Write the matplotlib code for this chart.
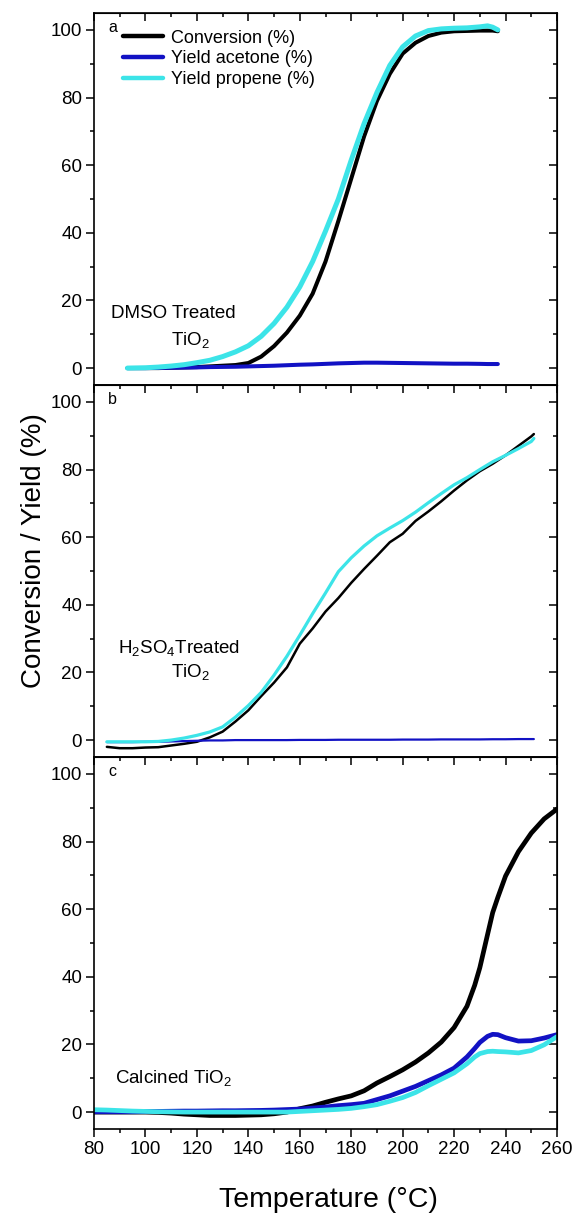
import numpy as np
import matplotlib
matplotlib.use('Agg')
import matplotlib.pyplot as plt
from matplotlib.ticker import MultipleLocator

plt.rcParams['font.family'] = 'Liberation Sans'
plt.rcParams['mathtext.fontset'] = 'custom'
plt.rcParams['mathtext.rm'] = 'Liberation Sans'
plt.rcParams['mathtext.default'] = 'regular'

# panel a - DMSO treated TiO2
T_a = [93, 100, 105, 110, 115, 120, 125, 130, 135, 140, 145, 150, 155, 160, 165, 170,
       175, 180, 185, 190, 195, 200, 205, 210, 215, 220, 225, 230, 233, 235, 237]
conv_a = [0, 0, 0, 0.1, 0.2, 0.3, 0.5, 0.7, 0.9, 1.5, 3.4, 6.5, 10.5, 15.5, 22, 31.5,
          43.5, 56, 68.5, 79, 87, 93, 96.2, 98.2, 99.2, 99.6, 99.7, 99.8, 99.8, 99.8, 99.6]
acet_a = [0, 0, 0.05, 0.1, 0.15, 0.2, 0.3, 0.35, 0.4, 0.5, 0.6, 0.7, 0.85, 1.0, 1.1, 1.25,
          1.4, 1.5, 1.6, 1.6, 1.55, 1.5, 1.45, 1.4, 1.35, 1.3, 1.3, 1.25, 1.2, 1.2, 1.2]
prop_a = [0, 0.1, 0.3, 0.6, 1.0, 1.6, 2.3, 3.4, 4.8, 6.6, 9.4, 13.2, 18, 24, 31.5, 40.5,
          50, 61.5, 72.3, 81.5, 89.5, 95, 98.2, 99.8, 100.3, 100.5, 100.6, 100.9, 101.2, 100.8, 100]

# panel b - H2SO4 treated TiO2
T_b = [85, 90, 95, 100, 105, 110, 115, 120, 125, 130, 135, 140, 145, 150, 155, 160, 165,
       170, 175, 180, 185, 190, 195, 200, 205, 210, 215, 220, 225, 230, 235, 240, 245, 250, 251]
conv_b = [-2, -2.4, -2.4, -2.2, -2.1, -1.6, -1.1, -0.5, 0.8, 2.5, 5.5, 8.8, 13, 17, 21.5, 28.5, 33,
          38, 42, 46.5, 50.6, 54.5, 58.5, 61, 64.8, 67.6, 70.6, 73.8, 76.8, 79.5, 81.7, 84.2, 87, 89.8, 90.5]
acet_b = [-0.6, -0.6, -0.6, -0.5, -0.5, -0.4, -0.3, -0.2, -0.1, -0.1, 0, 0, 0, 0, 0, 0.05, 0.05,
          0.05, 0.1, 0.1, 0.1, 0.1, 0.1, 0.15, 0.15, 0.15, 0.2, 0.2, 0.2, 0.2, 0.25, 0.25, 0.3, 0.3, 0.3]
prop_b = [-0.5, -0.5, -0.5, -0.5, -0.4, 0, 0.6, 1.4, 2.4, 3.9, 6.8, 10.2, 14.1, 19.2, 24.8, 31, 37.4,
          43.5, 49.8, 53.9, 57.4, 60.4, 62.7, 64.9, 67.4, 70.2, 72.9, 75.5, 77.6, 80, 82.3, 84.2, 86.2, 88.3, 89.2]

# panel c - calcined TiO2
T_c = [80, 85, 90, 95, 100, 105, 110, 115, 120, 125, 130, 135, 140, 145, 150, 155, 160, 165, 170, 175,
       180, 185, 190, 195, 200, 205, 210, 215, 220, 225, 228, 230, 233, 235, 237, 240, 245, 250, 255, 260]
conv_c = [0, 0, 0, 0, 0, -0.1, -0.3, -0.6, -0.8, -1.0, -1.0, -1.0, -0.9, -0.8, -0.5, 0.0, 1.0, 1.8, 2.9, 3.9,
          4.8, 6.3, 8.6, 10.5, 12.5, 14.8, 17.5, 20.7, 25.0, 31.3, 37.5, 42.7, 52.5, 59.0, 63.5, 69.8, 77.0, 82.5, 86.7, 89.6]
acet_c = [0.1, 0.1, 0.1, 0.1, 0.15, 0.2, 0.25, 0.3, 0.3, 0.35, 0.4, 0.4, 0.45, 0.5, 0.6, 0.75, 0.9, 1.2, 1.5, 1.9,
          2.2, 2.6, 3.7, 4.8, 6.2, 7.6, 9.3, 11.0, 13.0, 16.3, 18.8, 20.6, 22.4, 23.0, 22.9, 22.0, 21.0, 21.1, 21.9, 22.9]
prop_c = [0.7, 0.6, 0.45, 0.3, 0.2, 0.1, 0.05, 0, 0, 0, 0, 0, 0, 0, 0, 0, 0.2, 0.4, 0.6, 0.8,
          1.1, 1.6, 2.2, 3.2, 4.3, 5.8, 7.8, 9.7, 11.6, 14.3, 16.3, 17.3, 17.9, 18.0, 17.9, 17.8, 17.5, 18.2, 19.9, 22.3]

labels = ['Conversion (%)', 'Yield acetone (%)', 'Yield propene (%)']
c_conv = '#000000'
c_acet = '#1212c4'
c_prop = '#3ce4e8'

fig = plt.figure(figsize=(5.74, 12.16), dpi=100)
left = 94/574
width = 463/574
h = 372/1216
bottoms = [1-385/1216, 1-757/1216, 1-1129/1216]


def panel(bottom, T, conv, acet, prop, lws, letter, last=False):
    ax = fig.add_axes([left, bottom, width, h])
    ax.plot(T, conv, color=c_conv, lw=lws[0], label=labels[0], solid_capstyle='round')
    ax.plot(T, acet, color=c_acet, lw=lws[1], label=labels[1], solid_capstyle='round')
    ax.plot(T, prop, color=c_prop, lw=lws[2], label=labels[2], solid_capstyle='round')
    ax.set_xlim(80, 260)
    ax.set_ylim(-5, 105)
    ax.xaxis.set_major_locator(MultipleLocator(20))
    ax.xaxis.set_minor_locator(MultipleLocator(10))
    ax.yaxis.set_major_locator(MultipleLocator(20))
    ax.yaxis.set_minor_locator(MultipleLocator(10))
    ax.tick_params(which='both', direction='out', width=1.1, labelsize=13.5, pad=3)
    ax.tick_params(which='major', length=5.5)
    ax.tick_params(which='minor', length=3)
    if not last:
        ax.tick_params(axis='x', labelbottom=False)
    for s in ax.spines.values():
        s.set_linewidth(1.2)
    # mirrored ticks on top and right, pointing inward
    sx = ax.secondary_xaxis('top')
    sx.xaxis.set_major_locator(MultipleLocator(20))
    sx.xaxis.set_minor_locator(MultipleLocator(10))
    sx.tick_params(which='both', direction='in', labeltop=False, width=1.1)
    sx.tick_params(which='major', length=5.5)
    sx.tick_params(which='minor', length=3)
    sy = ax.secondary_yaxis('right')
    sy.yaxis.set_major_locator(MultipleLocator(20))
    sy.yaxis.set_minor_locator(MultipleLocator(10))
    sy.tick_params(which='both', direction='in', labelright=False, width=1.1)
    sy.tick_params(which='major', length=5.5)
    sy.tick_params(which='minor', length=3)
    ax.text(0.03, 0.962, letter, transform=ax.transAxes, fontsize=11.5, va='center', ha='left')
    return ax


ax1 = panel(bottoms[0], T_a, conv_a, acet_a, prop_a, (2.9, 2.9, 3.6), 'a')
ax2 = panel(bottoms[1], T_b, conv_b, acet_b, prop_b, (1.8, 1.6, 2.3), 'b')
ax3 = panel(bottoms[2], T_c, conv_c, acet_c, prop_c, (3.4, 3.4, 3.4), 'c', last=True)

leg = ax1.legend(loc='upper left', bbox_to_anchor=(0.062, 0.955), frameon=False, fontsize=13,
                 handlelength=2.25, handletextpad=0.4, labelspacing=0.2, borderpad=0, borderaxespad=0)
for ln in leg.get_lines():
    ln.set_linewidth(3.2)

ax1.text(110.7, 16, 'DMSO Treated', fontsize=13.5, ha='center', va='center')
ax1.text(117.5, 8.3, 'TiO$_2$', fontsize=13.5, ha='center', va='center')
ax2.text(113, 27.3, 'H$_2$SO$_4$Treated', fontsize=13.5, ha='center', va='center')
ax2.text(117.5, 20.2, 'TiO$_2$', fontsize=13.5, ha='center', va='center')
ax3.text(88, 10, 'Calcined TiO$_2$', fontsize=13.5, ha='left', va='center')

fig.text(0.06, 1-551/1216, 'Conversion / Yield (%)', rotation=90, fontsize=20, ha='center', va='center')
fig.text(328/574, 1-1200/1216, 'Temperature (\u00b0C)', fontsize=20.5, ha='center', va='center')

fig.savefig('out.png', dpi=100)
